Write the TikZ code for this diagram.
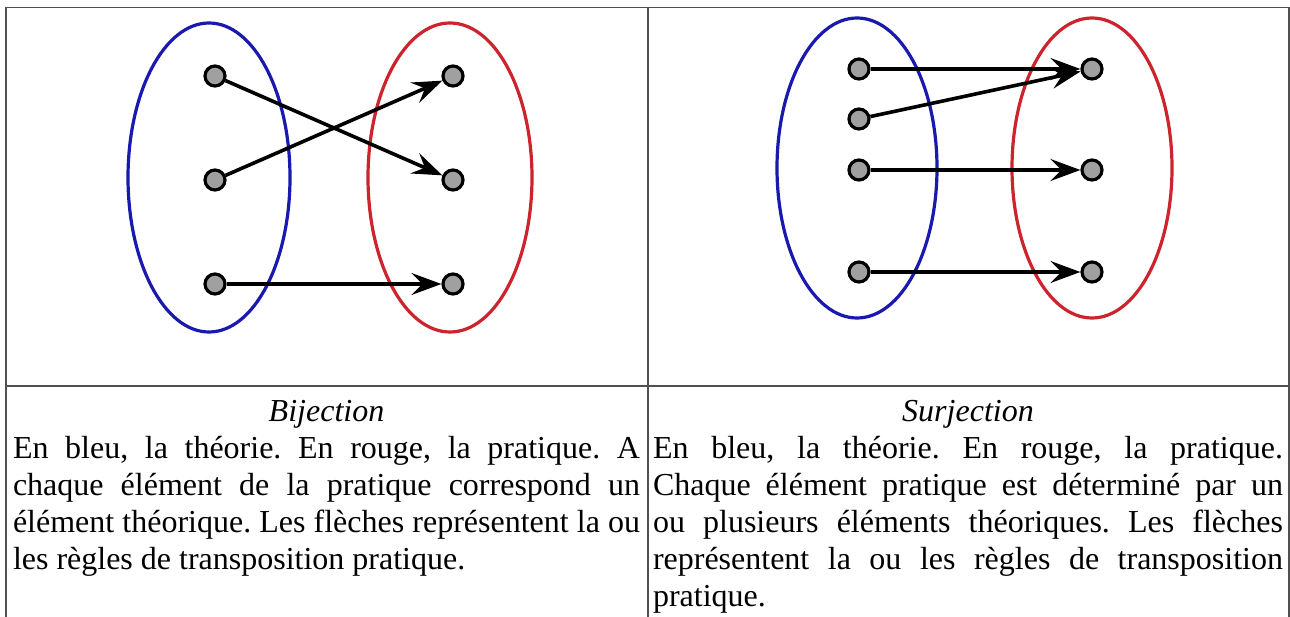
\documentclass[tikz,border=0pt]{standalone}
\usepackage{fontspec}
\setmainfont{Liberation Serif}
\usetikzlibrary{arrows.meta}
\definecolor{setblue}{RGB}{25,25,175}
\definecolor{setred}{RGB}{205,35,45}
\definecolor{dotgray}{RGB}{160,160,160}
\definecolor{rulegray}{RGB}{80,80,80}
\newcommand{\celltext}[2]{\begin{minipage}[t]{#1}\fontsize{32}{37}\selectfont\frenchspacing\hyphenpenalty=10000 \exhyphenpenalty=10000 \tolerance=10000 #2\end{minipage}}
\begin{document}
\begin{tikzpicture}[x=1pt,y=-1pt,
  elt/.style={circle,draw=black,fill=dotgray,line width=3.2pt,minimum size=20pt,inner sep=0pt},
  map/.style={-{Stealth[length=30pt,width=22pt,inset=11pt]},line width=3.6pt,draw=black},
  theory/.style={draw=setblue,line width=3.2pt},
  practice/.style={draw=setred,line width=3.2pt},
  grid/.style={draw=rulegray,line width=1.5pt},
  cell/.style={anchor=base west,inner sep=0pt,outer sep=0pt}]
\useasboundingbox (0,0) rectangle (1290,617);
\fill[white] (0,0) rectangle (1290,617);
% table rules
\draw[grid] (6,617) -- (6,7.5) -- (1289,7.5) -- (1289,617);
\draw[grid] (648,7.5) -- (648,617);
\draw[grid] (6,386) -- (1289,386);
% ---- Bijection ----
\draw[theory] (209,177.5) ellipse [x radius=81, y radius=154.5];
\draw[practice] (450,177.5) ellipse [x radius=82, y radius=154.5];
\node[elt] (a1) at (215,76) {};
\node[elt] (a2) at (215,180) {};
\node[elt] (a3) at (215,284) {};
\node[elt] (b1) at (453,76) {};
\node[elt] (b2) at (453,180) {};
\node[elt] (b3) at (453,284) {};
\draw[map] (a1) -- (b2);
\draw[map] (a2) -- (b1);
\draw[map] (a3) -- (b3);
% ---- Surjection ----
\draw[theory] (857,168) ellipse [x radius=80, y radius=150];
\draw[practice] (1092,168) ellipse [x radius=80, y radius=150];
\node[elt] (c1) at (859,69) {};
\node[elt] (c2) at (859,119) {};
\node[elt] (c3) at (859,170) {};
\node[elt] (c4) at (859,272) {};
\node[elt] (d1) at (1092,69) {};
\node[elt] (d2) at (1092,170) {};
\node[elt] (d3) at (1092,272) {};
\draw[map] (c1) -- (d1);
\draw[map] (c2) -- (d1);
\draw[map] (c3) -- (d2);
\draw[map] (c4) -- (d3);
% ---- captions ----
\node[cell] (capL) at (13,421) {\celltext{627pt}{\centerline{\itshape Bijection}
En bleu, la théorie. En rouge, la pratique. A\linebreak
chaque élément de la pratique correspond un\linebreak
élément théorique. Les flèches représentent la ou\linebreak
les règles de transposition pratique.}};
\node[cell] (capR) at (653,421) {\celltext{630pt}{\centerline{\itshape Surjection}
En bleu, la théorie. En rouge, la pratique.\linebreak
Chaque élément pratique est déterminé par un\linebreak
ou plusieurs éléments théoriques. Les flèches\linebreak
représentent la ou les règles de transposition\linebreak
pratique.}};
\end{tikzpicture}
\end{document}
